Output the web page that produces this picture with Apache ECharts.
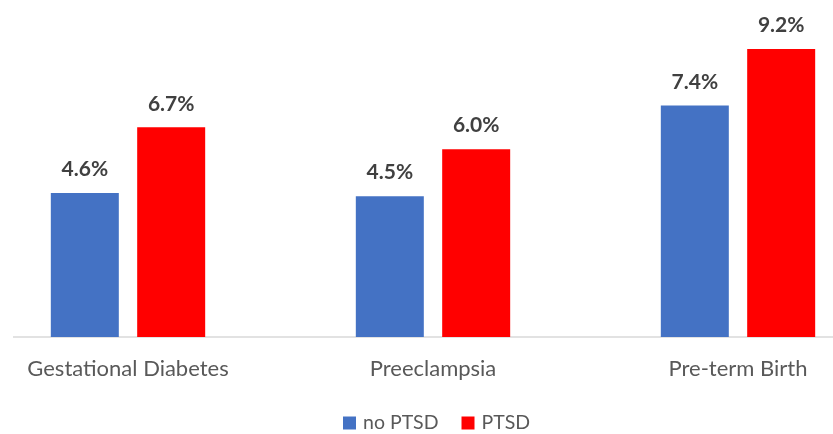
<!DOCTYPE html>
<html><head><meta charset="utf-8">
<script src="https://cdn.jsdelivr.net/npm/echarts@6/dist/echarts.min.js"></script>
<style>html,body{margin:0;padding:0;background:#fff}#c{width:833px;height:434px}</style>
</head><body><div id="c"></div>
<script>
var categories = ['Gestational Diabetes', 'Preeclampsia', 'Pre-term Birth'];
var noPTSD = [4.6, 4.5, 7.4];
var PTSD = [6.7, 6.0, 9.2];
var seriesNames = ['no PTSD', 'PTSD'];

var chart = echarts.init(document.getElementById('c'));
var lbl = {
  show: true, position: 'top', distance: 13,
  formatter: function (p) { return p.value.toFixed(1) + '%'; },
  color: '#404040', fontWeight: 'bold', fontSize: 21, fontFamily: 'Lato'
};
chart.setOption({
  animation: false,
  textStyle: { fontFamily: 'Lato' },
  grid: { left: -24.5, width: 915, top: 24, bottom: 97, containLabel: false, outerBoundsMode: 'none' },
  legend: {
    data: seriesNames, top: 413, left: 343, padding: 0,
    itemWidth: 13, itemHeight: 13, itemGap: 23, icon: 'rect',
    textStyle: { color: '#595959', fontSize: 19.5, fontFamily: 'Lato', padding: [0, 0, 0, 2] }
  },
  xAxis: {
    type: 'category', data: categories,
    axisLine: { lineStyle: { color: '#d9d9d9', width: 1.5 } },
    axisTick: { show: false },
    axisLabel: { color: '#595959', fontSize: 22, margin: 21, fontFamily: 'Lato' }
  },
  yAxis: { type: 'value', min: 0, max: 10, show: false, splitLine: { show: false } },
  series: [
    { name: seriesNames[0], type: 'bar', data: noPTSD, barWidth: 68, barGap: '27%',
      itemStyle: { color: '#4472C4' }, label: lbl },
    { name: seriesNames[1], type: 'bar', data: PTSD, barWidth: 68,
      itemStyle: { color: '#FF0000' }, label: lbl }
  ],
  graphic: [{ type: 'rect', left: 0, top: 330, shape: { width: 13, height: 14 },
    style: { fill: '#fff' }, z: 100 }]
});
</script></body></html>
